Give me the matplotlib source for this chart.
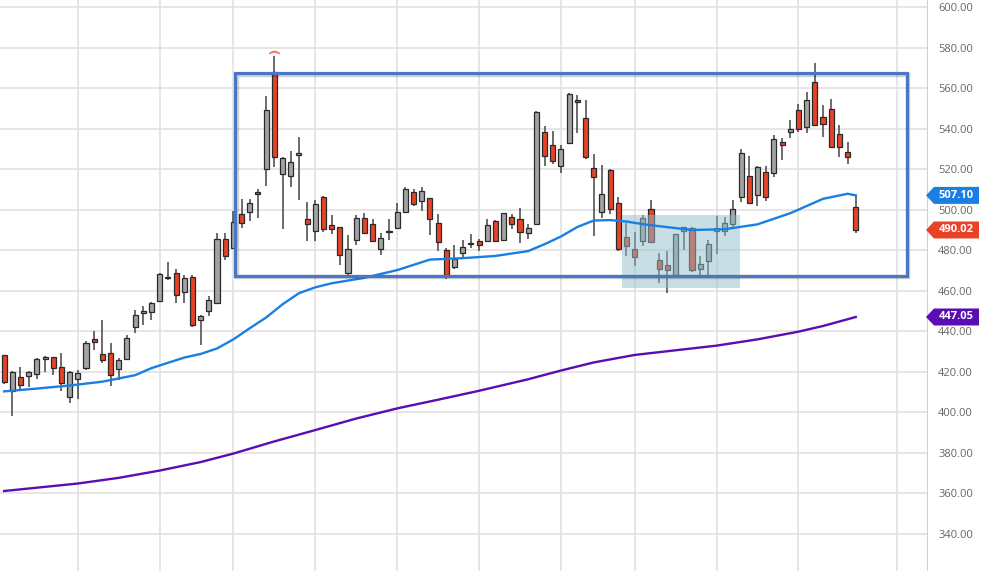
import matplotlib
matplotlib.use("Agg")
import matplotlib.pyplot as plt
from matplotlib.patches import Rectangle, Polygon
from matplotlib.transforms import IdentityTransform, offset_copy

# daily candles
opens = [428.2, 410.5, 417.5, 417.8, 419.1, 426.3, 427.1, 422.4, 407.6, 416.2,
         422.0, 436.2, 428.6, 429.1, 421.6, 426.1, 442.0, 449.2, 449.7, 455.0,
         466.3, 468.8, 459.2, 466.8, 445.6, 450.2, 454.2, 485.8, 481.2, 497.7,
         498.9, 509.0, 520.0, 568.0, 517.6, 516.7, 527.0, 495.2, 489.4, 506.5,
         492.4, 491.4, 468.8, 485.0, 496.1, 492.8, 480.8, 488.8, 491.1, 498.9,
         509.0, 504.3, 505.7, 493.6, 480.3, 471.6, 478.7, 483.0, 484.5, 484.8,
         494.4, 485.0, 496.6, 495.6, 488.6, 492.8, 538.3, 532.1, 521.4, 533.0,
         554.0, 545.4, 520.5, 498.9, 519.7, 503.5, 486.6, 480.7, 484.5, 500.2,
         475.4, 472.9, 468.0, 489.4, 491.1, 470.9, 474.9, 489.4, 489.4, 492.8,
         506.5, 516.7, 507.1, 518.7, 518.4, 533.6, 538.3, 549.3, 540.7, 563.0,
         545.7, 549.8, 537.4, 528.3, 501.5]
highs = [428.5, 420.5, 422.4, 420.5, 427.0, 428.0, 427.5, 429.1, 420.4, 421.0,
         435.2, 440.3, 445.6, 434.0, 426.8, 438.2, 450.6, 452.7, 454.5, 469.0,
         474.0, 470.8, 467.9, 468.0, 448.0, 457.5, 488.6, 488.3, 499.4, 505.2,
         505.2, 510.5, 556.4, 576.0, 526.0, 529.1, 535.8, 503.8, 504.7, 506.8,
         497.4, 491.5, 487.4, 497.2, 498.6, 495.2, 488.6, 495.2, 503.5, 511.0,
         510.5, 511.0, 506.0, 497.7, 481.0, 482.8, 485.0, 487.8, 485.5, 495.6,
         495.0, 498.5, 497.7, 501.0, 492.8, 549.0, 541.2, 539.1, 532.0, 557.8,
         556.8, 554.4, 527.5, 522.0, 520.0, 506.5, 493.6, 488.9, 497.2, 504.8,
         478.7, 479.5, 488.0, 491.5, 491.3, 477.4, 485.0, 496.9, 496.6, 504.8,
         530.0, 526.7, 521.5, 521.7, 536.9, 535.3, 544.5, 552.3, 558.0, 572.7,
         551.5, 554.8, 541.9, 533.6, 507.1]
lows = [413.8, 398.0, 411.7, 412.5, 416.2, 420.0, 418.3, 410.4, 404.6, 406.7,
        420.8, 430.7, 424.4, 413.0, 415.8, 426.0, 439.3, 443.1, 445.6, 455.0,
        465.1, 454.2, 454.2, 442.0, 433.0, 447.3, 454.0, 475.4, 481.0, 491.1,
        494.4, 496.0, 511.8, 521.2, 490.6, 511.0, 504.8, 484.8, 484.8, 489.0,
        487.8, 472.9, 468.0, 482.8, 487.8, 484.0, 477.9, 485.0, 491.0, 498.8,
        501.8, 499.4, 487.3, 479.5, 466.0, 470.8, 476.7, 481.2, 479.5, 484.0,
        484.0, 484.5, 490.6, 483.7, 485.7, 492.5, 521.4, 522.5, 518.0, 533.0,
        537.8, 525.0, 487.0, 496.0, 497.7, 479.5, 477.0, 472.1, 482.0, 483.5,
        463.8, 458.9, 467.0, 479.9, 469.1, 467.1, 467.0, 478.4, 486.9, 490.3,
        503.8, 503.0, 501.8, 504.3, 516.2, 524.5, 535.3, 538.3, 537.9, 541.5,
        535.7, 530.5, 525.9, 522.5, 488.6]
closes = [415.0, 420.0, 413.7, 420.0, 426.3, 427.4, 422.1, 414.6, 420.0, 419.6,
          434.4, 434.8, 425.8, 418.3, 425.8, 436.5, 448.1, 450.2, 453.9, 468.3,
          466.8, 458.0, 466.3, 443.1, 447.6, 455.2, 485.8, 477.0, 493.9, 493.6,
          503.2, 508.0, 549.3, 525.9, 525.4, 523.7, 527.8, 493.2, 502.7, 490.3,
          490.3, 477.9, 480.8, 496.1, 488.6, 484.8, 486.2, 489.3, 499.0, 510.1,
          502.7, 509.3, 495.2, 484.0, 467.4, 475.7, 481.7, 483.4, 482.8, 492.3,
          484.8, 498.2, 492.8, 489.1, 490.8, 548.2, 526.7, 524.2, 530.0, 557.3,
          553.1, 526.2, 516.2, 507.6, 500.5, 480.7, 482.3, 476.5, 496.1, 484.0,
          470.8, 470.4, 487.8, 491.4, 470.4, 473.3, 483.2, 491.1, 493.6, 500.2,
          527.8, 503.2, 520.9, 506.3, 534.9, 532.1, 539.9, 539.9, 554.4, 541.9,
          542.4, 530.8, 531.1, 525.9, 490.02]

# moving averages, sampled at candle numbers
ma_fast_idx = [0, 4, 8, 12, 16, 18, 20, 22, 24, 26, 28, 30, 32, 34, 36, 38, 40,
               44, 48, 52, 56, 60, 64, 66, 68, 70, 72, 74, 76, 78, 80, 84, 88,
               92, 96, 100, 103, 104]
ma_fast_val = [410.3, 411.7, 413.2, 415.1, 418.3, 421.8, 424.4, 427.0, 428.8,
               431.5, 436.0, 441.5, 446.8, 453.3, 458.8, 461.7, 463.7, 466.4,
               470.2, 475.4, 476.1, 477.2, 479.6, 483.0, 486.8, 491.5, 494.7,
               494.9, 494.2, 492.9, 491.9, 490.0, 490.4, 492.8, 498.3, 505.4,
               507.9, 507.10]
ma_slow_idx = [0, 9, 14, 19, 24, 28, 33, 38, 43, 48, 53, 58, 64, 68, 72, 77,
               82, 87, 92, 97, 100, 104]
ma_slow_val = [361.1, 364.8, 367.6, 371.2, 375.4, 379.6, 385.6, 391.2, 396.9,
               401.9, 406.2, 410.6, 416.3, 420.6, 424.6, 428.3, 430.6, 432.9,
               436.0, 439.8, 442.6, 447.05]

grid_idx = [9, 19, 28, 38, 48, 58, 68, 77, 87, 97, 109]
price_ticks = list(range(340, 601, 20))

# drawn shapes: (x0, x1, y0, y1) in candle number / price
range_box = (28.2, 110.25, 467.3, 567.5)
buy_zone = (75.5, 89.9, 461.3, 497.4)

UP = '#a3a3a3'
DOWN = '#ea4226'
BLUE = '#1a7fe3'
PURPLE = '#5a0db3'

plt.rcParams['font.family'] = ['Open Sans', 'DejaVu Sans']

fig = plt.figure(figsize=(9.83, 5.71), dpi=100)
ax = fig.add_axes([0, 0, 927 / 983, 1])
ax.set_xlim(-0.5, 112.7)
ax.set_ylim(321.6, 603.6)

x = list(range(len(closes)))
colors = [UP if c >= o else DOWN for o, c in zip(opens, closes)]
bottoms = [min(o, c) for o, c in zip(opens, closes)]
heights = [max(abs(c - o), 0.7) for o, c in zip(opens, closes)]

ax.vlines(x, lows, highs, color='#444444', lw=1.1, zorder=2)
ax.bar(x, heights, bottom=bottoms, width=0.62, color=colors,
       edgecolor='#2a2a2a', linewidth=0.9, zorder=3)

# marker above the top candle
top = highs.index(max(highs))
ax.plot(top, highs[top] + 2.0, marker=r'$\frown$', ms=7, color='#f08070', zorder=5)

ax.add_patch(Rectangle((buy_zone[0], buy_zone[2]), buy_zone[1] - buy_zone[0],
                       buy_zone[3] - buy_zone[2], facecolor='#8fbfcb',
                       alpha=0.5, edgecolor='none', zorder=3.5))

ax.plot(ma_fast_idx, ma_fast_val, color=BLUE, lw=1.7, zorder=4)
ax.plot(ma_slow_idx, ma_slow_val, color=PURPLE, lw=1.7, zorder=4)

# range box with a soft shadow
shadow_tr = offset_copy(ax.transData, fig=fig, x=1.5, y=-1.5, units='dots')
ax.add_patch(Rectangle((range_box[0], range_box[2]), range_box[1] - range_box[0],
                       range_box[3] - range_box[2], fill=False,
                       edgecolor='#000000', alpha=0.18, lw=3.2, zorder=5.9,
                       transform=shadow_tr))
ax.add_patch(Rectangle((range_box[0], range_box[2]), range_box[1] - range_box[0],
                       range_box[3] - range_box[2], fill=False,
                       edgecolor='#4a76c6', lw=2.3, zorder=6))

ax.set_xticks(grid_idx)
ax.set_yticks(price_ticks)
ax.set_yticklabels([f"{v:.2f}" for v in price_ticks])
ax.yaxis.tick_right()
ax.tick_params(axis='x', length=0, labelbottom=False)
ax.tick_params(axis='y', length=0, pad=8, labelsize=8, labelcolor='#666666')
ax.grid(True, color='#e2e2e2', lw=1.2)
ax.set_axisbelow(True)
for s in ['left', 'top', 'bottom']:
    ax.spines[s].set_visible(False)
ax.spines['right'].set_color('#d0d0d0')

# price tags on the right
tags = [(ma_fast_val[-1], BLUE), (closes[-1], DOWN), (ma_slow_val[-1], PURPLE)]
for val, col in tags:
    yp = ax.transData.transform((0, val))[1]
    pts = [(926, yp), (934, yp + 8.5), (979, yp + 8.5), (979, yp - 8.5), (934, yp - 8.5)]
    fig.add_artist(Polygon(pts, closed=True, facecolor=col, edgecolor='none',
                           transform=IdentityTransform(), zorder=10))
    fig.text(956, yp, f"{val:.2f}", transform=IdentityTransform(), color='white',
             fontsize=8, fontweight='bold', ha='center', va='center', zorder=11)

fig.savefig('out.png', dpi=100)
